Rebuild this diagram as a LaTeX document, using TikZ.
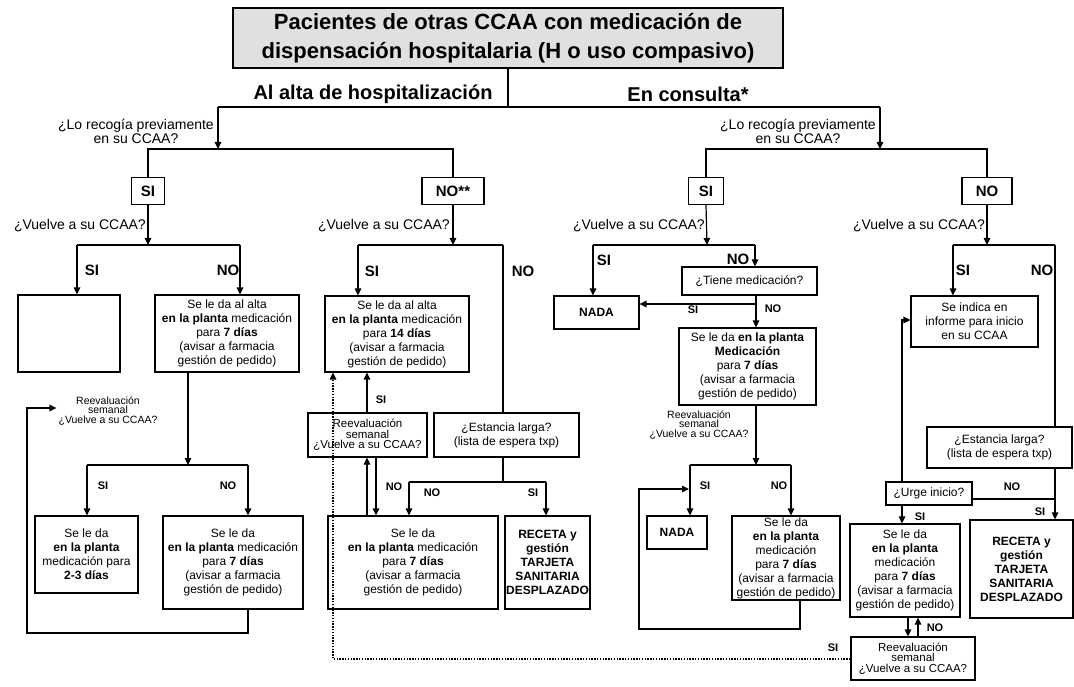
\documentclass[tikz,border=0pt]{standalone}
\usepackage{fontspec}
\setmainfont{Liberation Sans}
\usetikzlibrary{arrows.meta}
\definecolor{titlegray}{RGB}{224,224,224}
\begin{document}
\begin{tikzpicture}[x=1pt,y=-1pt,
  ln/.style={line width=1.2pt},
  arr/.style={ln,-{Triangle[length=7pt,width=6.5pt]}},
  dotln/.style={line width=1.6pt,dash pattern=on 1.4pt off 1.4pt},
  bx/.style={draw,ln,fill=white,align=center,inner sep=0pt,font=\fontsize{12}{14}\selectfont},
  rbx/.style={bx,font=\fontsize{11.5}{10.5}\selectfont},
  bigbox/.style={draw,ln,fill=white,inner sep=0pt,minimum height=27pt,font=\fontsize{15}{17}\selectfont\bfseries},
  titlebox/.style={draw,ln,fill=titlegray,align=center,inner sep=0pt,minimum width=550pt,minimum height=60pt,font=\fontsize{22}{29}\selectfont\bfseries},
  head/.style={inner sep=0pt,font=\fontsize{20}{24}\selectfont\bfseries},
  qlab/.style={inner sep=0pt,align=center,font=\fontsize{14}{14}\selectfont},
  bigl/.style={inner sep=0pt,font=\fontsize{15}{17}\selectfont\bfseries},
  smalll/.style={inner sep=0pt,font=\fontsize{11}{12}\selectfont\bfseries},
  rlab/.style={inner sep=0pt,align=center,font=\fontsize{10.5}{9.5}\selectfont}
]
\useasboundingbox (0,0) rectangle (1074,687);

% ---------- top ----------
\node[titlebox] (t) at (508,38) {Pacientes de otras CCAA con medicación de\\dispensación hospitalaria (H o uso compasivo)};
\node[head] (ha) at (373,94) {Al alta de hospitalización};
\node[head] (hc) at (688,94) {En consulta*};
\coordinate (j0) at (508,107);
\coordinate (jL) at (218,107);
\coordinate (jR) at (880,107);
\coordinate (kL) at (218,149);
\coordinate (kR) at (880,149);
\draw[ln] (t.south) -- (j0);
\draw[ln] (jL) -- (jR);
\draw[arr] (jL) -- (kL);
\draw[arr] (jR) -- (kR);
\node[qlab,anchor=east] (qL) at (214,131) {¿Lo recogía previamente\\en su CCAA?};
\node[qlab,anchor=east] (qR) at (876,131) {¿Lo recogía previamente\\en su CCAA?};

\node[bigbox,minimum width=33pt] (siA) at (148,191) {SI};
\node[bigbox,minimum width=62pt] (noA) at (453,191) {NO**};
\node[bigbox,minimum width=35pt] (siB) at (706,191) {SI};
\node[bigbox,minimum width=50pt] (noB) at (987,191) {NO};
\draw[ln] (siA.north) -- (siA.north |- kL) -- (noA.north |- kL) -- (noA.north);
\draw[ln] (siB.north) -- (siB.north |- kR) -- (noB.north |- kR) -- (noB.north);

% ---------- left SI subtree ----------
\coordinate (l1) at (148,245);
\coordinate (l1a) at (77,245);
\coordinate (l1b) at (240,245);
\draw[arr] (siA.south) -- (l1);
\node[qlab,anchor=east] (vA) at (146,226) {¿Vuelve a su CCAA?};
\node[bx,minimum width=102pt,minimum height=77pt] (empty) at (69,333.5) {};
\node[bx,minimum width=144pt,minimum height=77pt] (a7) at (227,333.5) {Se le da al alta\\\textbf{en la planta} medicación\\para \textbf{7 días}\\(avisar a farmacia\\gestión de pedido)};
\draw[ln] (l1a) -- (l1b);
\draw[arr] (l1a) -- (l1a |- empty.north);
\draw[arr] (l1b) -- (l1b |- a7.north);
\node[bigl] (sA1) at (92,270) {SI};
\node[bigl] (nA1) at (228,270) {NO};

\coordinate (l2) at (188,465);
\coordinate (l2a) at (87,465);
\coordinate (l2b) at (248,465);
\draw[arr] (l2 |- a7.south) -- (l2);
\draw[ln] (l2a) -- (l2b);
\node[bx,minimum width=103pt,minimum height=77pt] (a23) at (86.5,554.5) {Se le da\\\textbf{en la planta}\\medicación para\\\textbf{2-3 días}};
\node[bx,minimum width=140pt,minimum height=93pt] (a7b) at (233,562.5) {Se le da\\\textbf{en la planta} medicación\\para \textbf{7 días}\\(avisar a farmacia\\gestión de pedido)};
\draw[arr] (l2a) -- (l2a |- a23.north);
\draw[arr] (l2b) -- (l2b |- a7b.north);
\node[smalll] (sA2) at (103,486) {SI};
\node[smalll] (nA2) at (228,486) {NO};
\node[rlab] (rA) at (108,411) {Reevaluación\\semanal\\¿Vuelve a su CCAA?};
\coordinate (lp1) at (248,633);
\coordinate (lp2) at (27,633);
\coordinate (lp3) at (27,408);
\draw[arr] (lp1 |- a7b.south) -- (lp1) -- (lp2) -- (lp3) -- ([xshift=-2pt]rA.west |- lp3);

% ---------- left NO** subtree ----------
\coordinate (m1) at (453,245);
\coordinate (m1a) at (358,245);
\coordinate (m1b) at (503,245);
\draw[arr] (noA.south) -- (m1);
\node[qlab,anchor=east] (vB) at (450,226) {¿Vuelve a su CCAA?};
\draw[ln] (m1a) -- (m1b);
\node[bx,minimum width=144pt,minimum height=76pt] (b14) at (397,334) {Se le da al alta\\\textbf{en la planta} medicación\\para \textbf{14 días}\\(avisar a farmacia\\gestión de pedido)};
\node[rbx,minimum width=119pt,minimum height=44pt] (rB) at (367.5,435) {Reevaluación\\semanal\\¿Vuelve a su CCAA?};
\node[bx,minimum width=145pt,minimum height=44pt] (eB) at (506.5,435) {¿Estancia larga?\\(lista de espera txp)};
\draw[arr] (m1a) -- (m1a |- b14.north);
\draw[ln] (m1b) -- (m1b |- eB.north);
\node[bigl] (sB1) at (372,271) {SI};
\node[bigl] (nB1) at (523,271) {NO};
\node[bx,minimum width=170pt,minimum height=93pt] (b7) at (413,562.5) {Se le da\\\textbf{en la planta} medicación\\para \textbf{7 días}\\(avisar a farmacia\\gestión de pedido)};
\node[bx,minimum width=85pt,minimum height=93pt] (recB) at (547.5,562.5) {\textbf{RECETA y}\\\textbf{gestión}\\\textbf{TARJETA}\\\textbf{SANITARIA}\\\textbf{DESPLAZADO}};
\coordinate (u1) at (367,0);
\coordinate (u2) at (376,0);
\draw[arr] (u1 |- rB.north) -- (u1 |- b14.south);
\node[smalll] (sB2) at (381,400) {SI};
\draw[arr] (u1 |- b7.north) -- (u1 |- rB.south);
\draw[arr] (u2 |- rB.south) -- (u2 |- b7.north);
\node[smalll] (nB2) at (394,487) {NO};
\coordinate (m2) at (503,482);
\coordinate (m2a) at (409,482);
\coordinate (m2b) at (546,482);
\draw[ln] (m2 |- eB.south) -- (m2);
\draw[ln] (m2a) -- (m2b);
\draw[arr] (m2a) -- (m2a |- b7.north);
\draw[arr] (m2b) -- (m2b |- recB.north);
\node[smalll] (nB3) at (432,493) {NO};
\node[smalll] (sB3) at (533,493) {SI};

% ---------- right SI subtree ----------
\coordinate (r1) at (707,245);
\coordinate (r1a) at (593,245);
\coordinate (r1b) at (755,245);
\draw[arr] (siB.south) -- (r1);
\node[qlab,anchor=east] (vC) at (705,226) {¿Vuelve a su CCAA?};
\draw[ln] (r1a) -- (r1b);
\node[bx,minimum width=135pt,minimum height=28pt] (tiene) at (749.5,281) {¿Tiene medicación?};
\node[bx,minimum width=85pt,minimum height=33pt] (nada1) at (596.5,312.5) {\textbf{NADA}};
\draw[arr] (r1a) -- (r1a |- nada1.north);
\draw[arr] (r1b) -- (r1b |- tiene.north);
\node[bigl] (sC1) at (604,260) {SI};
\node[bigl] (nC1) at (738,259) {NO};
\node[bx,minimum width=137pt,minimum height=77pt] (c7) at (747.5,366.5) {Se le da \textbf{en la planta}\\\textbf{Medicación}\\para \textbf{7 días}\\(avisar a farmacia\\gestión de pedido)};
\coordinate (r2) at (756,304);
\draw[arr] (r2 |- tiene.south) -- (r2 |- c7.north);
\draw[arr] (r2) -- (nada1.east |- r2);
\node[smalll] (sC2) at (693,310) {SI};
\node[smalll] (nC2) at (773,309) {NO};
\coordinate (r3) at (756,465);
\coordinate (r3a) at (690,465);
\coordinate (r3b) at (791,465);
\draw[arr] (r3 |- c7.south) -- (r3);
\node[rlab] (rC) at (699,425) {Reevaluación\\semanal\\¿Vuelve a su CCAA?};
\draw[ln] (r3a) -- (r3b);
\node[bx,minimum width=60pt,minimum height=33pt] (nada2) at (677,532.5) {\textbf{NADA}};
\node[bx,minimum width=108pt,minimum height=84pt] (c7b) at (786,558) {Se le da\\\textbf{en la planta}\\medicación\\para \textbf{7 días}\\(avisar a farmacia\\gestión de pedido)};
\draw[arr] (r3a) -- (r3a |- nada2.north);
\draw[arr] (r3b) -- (r3b |- c7b.north);
\node[smalll] (sC3) at (705,486) {SI};
\node[smalll] (nC3) at (779,486) {NO};
\coordinate (q1) at (800,629);
\coordinate (q2) at (639,629);
\coordinate (q3) at (639,489);
\draw[arr] (q1 |- c7b.south) -- (q1) -- (q2) -- (q3) -- ([xshift=-1pt]r3a |- q3);

% ---------- right NO subtree ----------
\coordinate (s1) at (987,245);
\coordinate (s1a) at (953,245);
\coordinate (s1b) at (1055,245);
\draw[arr] (noB.south) -- (s1);
\node[qlab,anchor=east] (vD) at (985,226) {¿Vuelve a su CCAA?};
\draw[ln] (s1a) -- (s1b);
\node[bx,minimum width=127pt,minimum height=51pt] (sind) at (974.5,321.5) {Se indica en\\informe para inicio\\en su CCAA};
\node[bx,minimum width=145pt,minimum height=41pt] (eD) at (999.5,447.5) {¿Estancia larga?\\(lista de espera txp)};
\draw[arr] (s1a) -- (s1a |- sind.north);
\draw[ln] (s1b) -- (s1b |- eD.north);
\node[bigl] (sD1) at (963,270) {SI};
\node[bigl] (nD1) at (1042,270) {NO};
\node[bx,minimum width=86pt,minimum height=23pt] (urge) at (929,493.5) {¿Urge inicio?};
\node[bx,minimum width=110pt,minimum height=93pt] (d7) at (905,570.5) {Se le da\\\textbf{en la planta}\\medicación\\para \textbf{7 días}\\(avisar a farmacia\\gestión de pedido)};
\node[bx,minimum width=103pt,minimum height=98pt] (recD) at (1021.5,569) {\textbf{RECETA y}\\\textbf{gestión}\\\textbf{TARJETA}\\\textbf{SANITARIA}\\\textbf{DESPLAZADO}};
\node[rbx,minimum width=124pt,minimum height=43pt] (rD) at (913,658.5) {Reevaluación\\semanal\\¿Vuelve a su CCAA?};
\coordinate (s2) at (902,320);
\draw[arr] (s2 |- urge.north) -- (s2) -- (sind.west |- s2);
\coordinate (s3) at (1055,499);
\draw[arr] (s3 |- eD.south) -- (s3 |- recD.north);
\draw[ln] (s3) -- (urge.east |- s3);
\node[smalll] (nD2) at (1012,487) {NO};
\node[smalll] (sD2) at (1040,512) {SI};
\draw[arr] (s2 |- urge.south) -- (s2 |- d7.north);
\node[smalll] (sD3) at (920,517) {SI};
\coordinate (w1) at (908,0);
\coordinate (w2) at (918,0);
\draw[arr] (w1 |- d7.south) -- (w1 |- rD.north);
\draw[arr] (w2 |- rD.north) -- (w2 |- d7.south);
\node[smalll] (nD3) at (935,628) {NO};

% ---------- dotted return ----------
\coordinate (dt1) at (333,659);
\draw[dotln,-{Triangle[length=7pt,width=6.5pt]}] (rD.west |- dt1) -- (dt1) -- (dt1 |- b14.south);
\node[smalll] (sD4) at (833,648) {SI};
\end{tikzpicture}
\end{document}
